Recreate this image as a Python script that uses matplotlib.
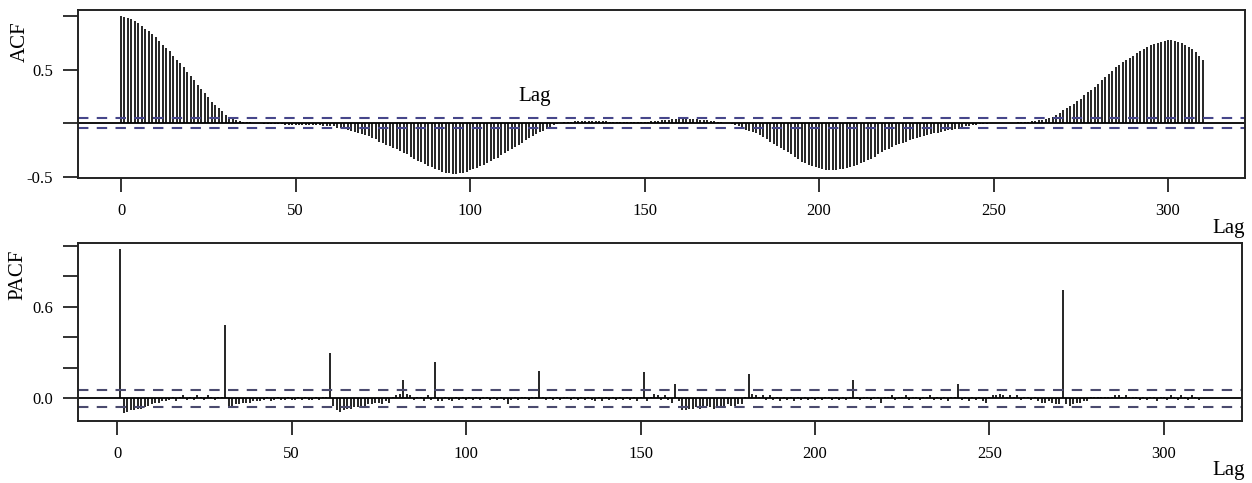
import numpy as np
import matplotlib
matplotlib.use("Agg")
import matplotlib.pyplot as plt

plt.rcParams["font.family"] = ["Liberation Serif", "DejaVu Serif"]

# ACF, lags 0..310
acf_vals = [
    1.00, 0.99, 0.98, 0.97, 0.95, 0.93, 0.91, 0.88, 0.86, 0.83,
    0.80, 0.77, 0.73, 0.70, 0.67, 0.63, 0.59, 0.56, 0.52, 0.48,
    0.44, 0.40, 0.36, 0.32, 0.28, 0.24, 0.20, 0.17, 0.14, 0.11,
    0.08, 0.06, 0.04, 0.03, 0.02, 0.01, 0.01, 0.01, 0.00, 0.00,
    0.00, -0.01, -0.01, -0.01, -0.01, -0.01, -0.01, -0.02, -0.02, -0.02,
    -0.02, -0.02, -0.02, -0.02, -0.02, -0.02, -0.02, -0.02, -0.03, -0.03,
    -0.03, -0.03, -0.04, -0.04, -0.05, -0.06, -0.07, -0.08, -0.09, -0.10,
    -0.11, -0.12, -0.14, -0.15, -0.17, -0.18, -0.20, -0.21, -0.23, -0.24,
    -0.26, -0.28, -0.29, -0.31, -0.33, -0.35, -0.36, -0.38, -0.40, -0.41,
    -0.43, -0.44, -0.45, -0.46, -0.46, -0.47, -0.47, -0.46, -0.46, -0.45,
    -0.44, -0.43, -0.42, -0.40, -0.39, -0.37, -0.35, -0.33, -0.32, -0.30,
    -0.28, -0.26, -0.24, -0.22, -0.20, -0.18, -0.16, -0.14, -0.12, -0.10,
    -0.08, -0.07, -0.05, -0.04, -0.02, -0.01, 0.00, 0.01, 0.01, 0.01,
    0.02, 0.02, 0.02, 0.02, 0.02, 0.02, 0.02, 0.02, 0.02, 0.02,
    0.01, 0.01, 0.01, 0.01, 0.01, 0.01, 0.01, 0.01, 0.01, 0.01,
    0.01, 0.01, 0.02, 0.02, 0.02, 0.03, 0.03, 0.03, 0.04, 0.04,
    0.04, 0.04, 0.04, 0.04, 0.04, 0.04, 0.03, 0.03, 0.03, 0.02,
    0.02, 0.01, 0.01, 0.00, 0.00, -0.01, -0.02, -0.03, -0.04, -0.06,
    -0.07, -0.08, -0.09, -0.11, -0.13, -0.15, -0.17, -0.19, -0.21, -0.23,
    -0.25, -0.27, -0.29, -0.31, -0.33, -0.36, -0.37, -0.39, -0.40, -0.41,
    -0.42, -0.43, -0.44, -0.44, -0.44, -0.44, -0.43, -0.43, -0.42, -0.41,
    -0.40, -0.39, -0.37, -0.36, -0.34, -0.33, -0.31, -0.29, -0.27, -0.25,
    -0.24, -0.22, -0.20, -0.19, -0.18, -0.17, -0.16, -0.15, -0.14, -0.13,
    -0.12, -0.11, -0.10, -0.09, -0.09, -0.08, -0.07, -0.06, -0.06, -0.05,
    -0.05, -0.04, -0.03, -0.03, -0.02, -0.02, -0.01, -0.01, -0.01, 0.00,
    0.00, 0.00, 0.00, 0.00, 0.00, 0.00, 0.00, 0.01, 0.01, 0.01,
    0.01, 0.02, 0.02, 0.03, 0.03, 0.04, 0.05, 0.06, 0.08, 0.10,
    0.12, 0.14, 0.16, 0.18, 0.21, 0.23, 0.26, 0.29, 0.31, 0.34,
    0.37, 0.40, 0.43, 0.46, 0.49, 0.52, 0.54, 0.57, 0.59, 0.61,
    0.63, 0.65, 0.67, 0.69, 0.71, 0.73, 0.74, 0.75, 0.76, 0.77,
    0.78, 0.78, 0.77, 0.76, 0.75, 0.73, 0.71, 0.69, 0.66, 0.63, 0.59,
]
acf_lags = list(range(len(acf_vals)))

# PACF, lags 1..310
pacf_vals = [
    0.98, -0.10, -0.09, -0.08, -0.08, -0.07, -0.07, -0.06, -0.05, -0.04,
    -0.03, -0.03, -0.02, -0.02, -0.01, 0.01, -0.02, 0.01, 0.02, -0.01,
    0.01, -0.01, 0.02, 0.01, -0.01, 0.02, 0.01, -0.01, 0.01, 0.01,
    0.48, -0.05, -0.05, -0.04, -0.04, -0.03, -0.03, -0.03, -0.02, -0.02,
    -0.02, -0.01, 0.01, -0.02, -0.01, 0.01, -0.01, -0.01, 0.01, -0.01,
    -0.01, 0.01, -0.01, 0.01, -0.01, -0.01, 0.01, -0.01, 0.01, 0.01,
    0.30, -0.05, -0.08, -0.09, -0.08, -0.07, -0.07, -0.06, -0.06, -0.05,
    -0.05, -0.04, -0.04, -0.03, -0.03, -0.04, -0.02, -0.03, 0.01, 0.02,
    0.03, 0.12, 0.03, 0.02, -0.01, 0.01, 0.01, -0.02, 0.02, -0.01,
    0.24, -0.02, -0.02, 0.01, -0.01, -0.02, 0.01, -0.01, 0.01, -0.01,
    0.01, -0.01, 0.01, -0.01, 0.01, 0.01, -0.01, 0.01, -0.01, 0.01,
    -0.01, -0.04, -0.01, 0.01, -0.01, 0.01, 0.01, -0.01, 0.01, 0.01,
    0.18, 0.01, -0.01, 0.01, -0.01, 0.01, -0.01, 0.01, 0.01, -0.01,
    0.01, -0.01, 0.01, -0.01, 0.01, -0.01, -0.02, 0.01, -0.02, 0.01,
    -0.01, 0.01, -0.01, 0.01, -0.01, 0.01, -0.01, 0.01, -0.02, 0.01,
    0.17, -0.02, 0.01, 0.03, 0.02, -0.01, 0.02, -0.01, -0.03, 0.09,
    -0.02, -0.08, -0.08, -0.07, -0.07, -0.06, -0.07, -0.06, -0.05, -0.06,
    -0.07, -0.05, -0.05, -0.06, -0.04, -0.05, -0.05, -0.04, -0.04, 0.01,
    0.16, 0.03, 0.02, 0.01, 0.02, -0.01, 0.02, -0.01, 0.01, -0.02,
    0.01, -0.01, 0.01, -0.02, 0.01, -0.01, 0.01, -0.01, 0.01, -0.01,
    0.01, -0.01, 0.01, 0.01, -0.01, 0.01, -0.01, 0.01, -0.01, 0.01,
    0.12, 0.01, -0.01, 0.01, 0.01, -0.01, 0.01, 0.01, -0.03, 0.01,
    0.01, 0.02, -0.01, 0.01, 0.01, 0.02, -0.01, 0.01, 0.01, -0.01,
    0.01, 0.01, 0.02, -0.01, 0.01, -0.01, 0.01, -0.02, 0.01, 0.01,
    0.09, -0.01, 0.01, -0.02, 0.01, -0.01, 0.01, -0.02, -0.03, 0.01,
    0.02, 0.02, 0.03, 0.02, 0.01, 0.02, 0.01, 0.02, -0.01, 0.01,
    0.01, -0.01, 0.01, -0.02, -0.03, -0.03, -0.02, -0.03, -0.04, -0.04,
    0.71, -0.04, -0.05, -0.04, -0.03, -0.03, -0.02, -0.02, 0.01, 0.01,
    0.01, 0.01, 0.01, 0.01, 0.01, 0.02, 0.02, 0.01, 0.02, 0.01,
    0.01, 0.01, -0.01, 0.01, -0.01, 0.01, 0.01, -0.02, 0.01, 0.01,
    -0.01, 0.02, 0.01, -0.01, 0.02, 0.01, -0.01, 0.02, 0.01, -0.01,
]
pacf_lags = list(range(1, len(pacf_vals) + 1))

acf_band = 0.047
pacf_band = 0.055

xticks = [0, 50, 100, 150, 200, 250, 300]
acf_yticks = [-0.5, 0.0, 0.5, 1.0]
acf_ylabels = ["-0.5", "", "0.5", ""]
pacf_yticks = [0.0, 0.2, 0.4, 0.6, 0.8, 1.0]
pacf_ylabels = ["0.0", "", "", "0.6", "", ""]

W, H = 1252, 483
fig = plt.figure(figsize=(W / 100, H / 100), dpi=100)

ax1 = fig.add_axes([78 / W, 1 - 178 / H, (1245 - 78) / W, (178 - 10) / H])
ax2 = fig.add_axes([78 / W, 1 - 421 / H, (1242 - 78) / W, (421 - 243) / H])

band_col = "#46468a"


def style(ax):
    for s in ax.spines.values():
        s.set_linewidth(1.4)
        s.set_color("#222222")
    ax.tick_params(axis="x", direction="out", length=10, width=1.3,
                   pad=8, labelsize=12, color="#222222")
    ax.tick_params(axis="y", direction="out", length=11, width=1.3,
                   pad=7, labelsize=12, color="#222222")


ax1.vlines(acf_lags, 0, acf_vals, color="black", lw=1.2)
ax1.axhline(0, color="black", lw=1.3)
ax1.axhline(acf_band, color=band_col, lw=1.5, ls=(0, (5, 4)))
ax1.axhline(-acf_band, color=band_col, lw=1.5, ls=(0, (5, 4)))
ax1.set_xlim((78 - 121) / 3.49, (1245 - 121) / 3.49)
ax1.set_ylim(-0.51, 1.055)
ax1.set_xticks(xticks)
ax1.set_yticks(acf_yticks)
ax1.set_yticklabels(acf_ylabels)
style(ax1)

ax2.vlines(pacf_lags, 0, pacf_vals, color="black", lw=1.2)
ax2.axhline(0, color="black", lw=1.3)
ax2.axhline(pacf_band, color="#4a4a6e", lw=1.5, ls=(0, (5, 4)))
ax2.axhline(-pacf_band, color="#4a4a6e", lw=1.5, ls=(0, (5, 4)))
ax2.set_xlim((78 - 117) / 3.49, (1242 - 117) / 3.49)
ax2.set_ylim(-0.15, 1.02)
ax2.set_xticks(xticks)
ax2.set_yticks(pacf_yticks)
ax2.set_yticklabels(pacf_ylabels)
style(ax2)

fig.text(20 / W, 1 - 42 / H, "ACF", rotation=90, ha="center", va="center", fontsize=15)
fig.text(18 / W, 1 - 275 / H, "PACF", rotation=90, ha="center", va="center", fontsize=15)
fig.text(535 / W, 1 - 97 / H, "Lag", ha="center", va="center", fontsize=15)
fig.text(1229 / W, 1 - 228 / H, "Lag", ha="center", va="center", fontsize=15)
fig.text(1229 / W, 1 - 470 / H, "Lag", ha="center", va="center", fontsize=15)

fig.savefig("out.png", dpi=100)
